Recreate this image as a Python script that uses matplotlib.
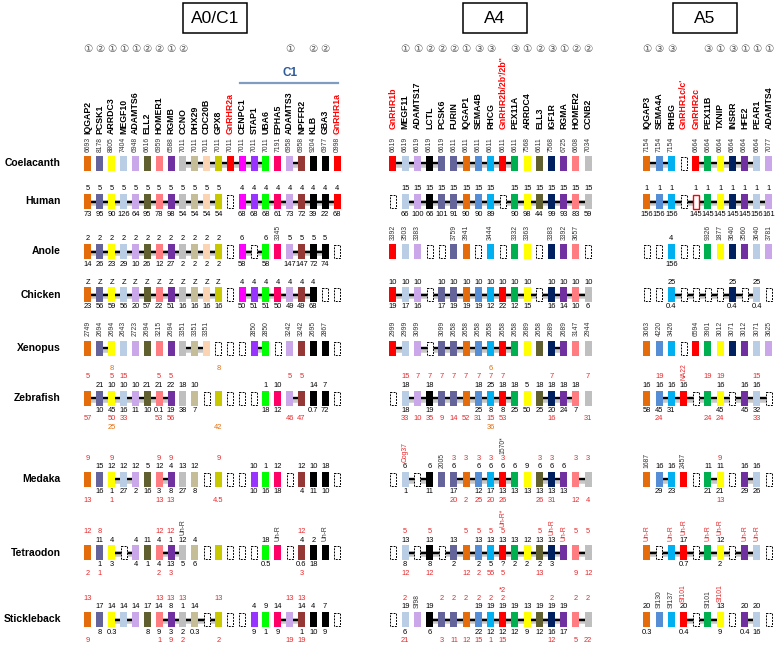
import matplotlib.pyplot as plt
from matplotlib.patches import Rectangle

plt.rcParams['font.family'] = ['Liberation Sans', 'DejaVu Sans']

SPECIES = ['Coelacanth', 'Human', 'Anole', 'Chicken', 'Xenopus',
           'Zebrafish', 'Medaka', 'Tetraodon', 'Stickleback']

# colours of the gene families
ORG = '#E46C0A'; SLT = '#64649A'; YEL = '#FFFF00'; LBL = '#B9CDE5'
LAV = '#C9A7E8'; OLV = '#5F5F30'; SAL = '#FF7C80'; PUR = '#7030A0'
GRY = '#BFBFBF'; TAN = '#C4BD97'; PCH = '#FBD4B4'; GPX = '#C8C800'
RED = '#FF0000'; MAG = '#FF00FF'; VIO = '#9933FF'; LIM = '#00FF00'
PNK = '#FF0066'; BRN = '#953735'; BLK = '#000000'; STL = '#558ED5'
SKY = '#00B0F0'; GRN = '#00B050'; NAV = '#002060'

# ---------------- A0/C1 ----------------
A0_GENES = ['IQGAP2', 'PCSK1', 'ARRDC3', 'MEGF10', 'ADAMTS6', 'ELL2', 'HOMER1',
            'RGMB', 'CCNO', 'DHX29', 'CDC20B', 'GPX8', 'GnRHR2a', 'CENPC1',
            'STAP1', 'UBA6', 'EPHA5', 'ADAMTS3', 'NPFFR2', 'KLB', 'GBA3', 'GnRHR1a']
A0_COLORS = [ORG, SLT, YEL, LBL, LAV, OLV, SAL, PUR, GRY, TAN, PCH, GPX, RED,
             MAG, VIO, LIM, PNK, LAV, BRN, BLK, BLK, RED]
A0_CIRCLED = '1 2 1 1 1 2 2 1 2 . . . . . . . . 1 . 2 2 .'
A0_BOXES = ['xxxxxxxxxxxxxxxxxxxxxx', 'xxxxxxxxxxxxdxxxxxxxxx', 'xxxxxxxxxxxxdxdxxxxxxd',
            'xxxxxxxxxxxxdxxxxxxxdd', 'xxxxxxxxxxxdddxxdxxxxd', 'xxxxxxxxxxdxdddxxxxxxd',
            'xxxxxxxxxxdxddxxxdxxxd', 'xxxdxxxxxxdxdddxxdxxxd', 'xxxxxxxxxxdxddxxxxxxxd']
A0_LINKS = [[(8, 15), (17, 18)], [(0, 11), (13, 21)], [(0, 11), (13, 15), (17, 20)],
            [(0, 11), (13, 19)], [(1, 2), (8, 10), (14, 15)], [(0, 7), (17, 18)],
            [(2, 4), (6, 7)], [(2, 4), (6, 8)], [(2, 4), (6, 11), (16, 18)]]
A0_ROT = ['6693 8178 8805 7404 6948 6616 6959 6588 7011 7011 7011 7011 7011 7011 7011 7011 7191 6958 6958 9204 6977 0998',
          '',
          '. . . . . . . . . . . . . . . . 3345 . . . . .',
          '',
          '2749 2694 2694 2643 2723 2694 3215 2694 3351 3351 3351 . . . 2850 2850 . 3242 3242 2695 2867 .',
          '', '',
          '. . . . . . . . Un-R . . . . . . . Un-R . . . Un-R .',
          '']
A0_TOP = ['',
          '5 5 5 5 5 5 5 5 5 5 5 5 . 4 4 4 4 4 4 4 4 4',
          '2 2 2 2 2 2 2 2 2 2 2 2 . 6 . 6 . 5 5 5 5 .',
          'Z Z Z Z Z Z Z Z Z Z Z Z . 4 4 4 4 4 4 4 . .',
          '',
          '. 21 10 10 10 21 21 22 18 10 . . . . . 1 10 . . 14 7 .',
          '. 15 12 12 12 5 12 4 13 12 . . . . 10 1 12 . 12 10 18 .',
          '. 11 4 . 4 11 4 1 12 4 . . . . . 18 . . 4 2 . .',
          '. 17 14 14 14 17 14 8 1 14 . . . . 4 9 14 . 14 4 7 .']
A0_TOP2 = ['', '', '', '', '',
           '5 . 5 15 . . 5 5 . . . . . . . . . 5 5 . . .',
           '9 . 9 . . . 9 9 . . . 9 . . . . . . . . . .',
           '12 8 . . . . 12 12 . . . . . . . . . . 12 . . .',
           '13 . . . . . 13 13 13 . . 13 . . . . . 13 13 . . .']
A0_TOP3 = ['', '', '', '', '',
           '. . 8 . . . . . . . . 8 . . . . . . . . . .',
           '', '', '']
A0_BOT = ['',
          '73 95 90 126 64 95 78 98 54 54 54 54 . 68 68 68 61 73 72 39 22 68',
          '14 26 23 29 10 26 12 27 2 2 2 2 . 58 . 58 . 147 147 72 74 .',
          '23 56 59 56 20 57 22 51 16 16 16 16 . 50 51 51 50 49 49 68 . .',
          '',
          '. 10 45 16 11 10 0.1 19 38 7 . . . . . 18 12 . . 0.7 72 .',
          '. 16 1 27 2 16 3 8 27 8 . . . . 10 16 18 . 4 11 10 .',
          '. 1 3 . 4 1 4 13 5 6 . . . . . 0.5 . . 0.6 18 . .',
          '. 8 0.3 . . 8 9 3 2 0.3 . . . . 9 1 9 . 1 10 9 .']
A0_BOT2 = ['', '', '', '', '',
           '57 . 50 33 . . 53 56 . . . . . . . . . 46 47 . . .',
           '13 . 1 . . . 13 13 . . . 4.5 . . . . . . . . . .',
           '2 1 . . . . 2 3 . . . . . . . . . . 3 . . .',
           '9 . . . . . 1 9 2 . . 2 . . . . . 19 19 . . .']
A0_BOT3 = ['', '', '', '', '',
           '. . 25 . . . . . . . . 42 . . . . . . . . . .',
           '', '', '']

# ---------------- A4 ----------------
A4_GENES = ['GnRHR1b', 'MEGF11', 'ADAMTS17', 'LCTL', 'PCSK6', 'FURIN', 'IQGAP1',
            'SEMA4B', 'RHCG', "GnRHR2b/2b'/2b''", 'PEX11A', 'ARRDC4', 'ELL3',
            'IGF1R', 'RGMA', 'HOMER2', 'CCNB2']
A4_COLORS = [RED, LBL, LAV, BLK, SLT, SLT, ORG, STL, SKY, RED, GRN, YEL, OLV,
             NAV, PUR, SAL, GRY]
A4_CIRCLED = '. 1 1 2 2 2 1 3 3 . 3 1 2 3 1 2 2'
A4_BOXES = ['xxxxxxxxxxxxxxxxx', 'dxxxxxxxxdxxxxxxx', 'xxxddxxdxdxxdxxxd',
            'xxxdxxxxxxxxdxxxx', 'xxxdxxxxxxxxxxxxx', 'dxxxxxxxxxxxxxxxx',
            'dxdxxxxxxxxxxxxxx', 'dxdxdxxxxxxxxxxxx', 'dxxxxxxxxxxxxxxxx']
A4_LINKS = [[(0, 4), (5, 10)], [(1, 16)], [], [(0, 16)], [(0, 1), (2, 10), (13, 14)],
            [(1, 10), (12, 15)], [(1, 3), (5, 10), (12, 14), (15, 16)],
            [(1, 14), (15, 16)], [(3, 14), (15, 16)]]
A4_ROT = ['6619 6619 6619 6619 6619 6611 6611 6611 6611 6611 6611 7568 6611 7568 6725 6608 7034',
          '',
          '3392 3503 3383 . . 3759 3941 . 3444 . 3332 3363 . 3383 3392 3657 .',
          '',
          '2999 2999 3099 . 3099 2658 2658 2658 2658 2658 2658 2689 2658 2689 2689 3147 2944',
          '',
          '. r:Cog37 . . 2005 . . . . 1570* . . . . . . .',
          '. . . . . . . . . r:Un-R* . . . r:Un-R r:Un-R . .',
          '. . Sf98 . . . . . . . . . . . . . .']
A4_TOP = ['',
          '. 15 15 15 15 15 15 15 15 . 15 15 15 15 15 15 15',
          '',
          '10 10 10 . 10 10 10 10 10 10 10 10 . 10 10 10 10',
          '',
          '. 18 . 18 . . . 18 25 18 18 5 18 18 18 18 .',
          '. 6 . 6 . 6 . 6 6 6 6 9 6 6 6 . .',
          '. 13 . 13 . 13 . 13 13 13 13 12 13 13 . . .',
          '. 19 . 19 . . . 19 19 19 19 13 19 19 19 . .']
A4_TOP2 = ['', '', '', '', '',
           '. 15 7 7 7 7 7 7 7 7 . . . 7 . . 7',
           '. . . . . 3 3 3 3 3 . . 3 3 . 3 3',
           '. 5 . 5 . . 5 5 5 5 . . 5 . . 5 5',
           '. 2 . . 2 2 2 2 2 2 . . . 2 . 2 2']
A4_TOP3 = ['', '', '', '', '',
           '. . . . . . . . 6 . . . . . . . .',
           '', '',
           '. . . . . . . . . r:*2 . . . . . . .']
A4_BOT = ['',
          '. 66 100 66 101 91 90 90 89 . 90 98 44 99 93 83 59',
          '',
          '19 17 16 . 17 19 19 19 12 22 12 15 . 16 14 10 6',
          '',
          '. 18 . 19 . . . 25 8 8 25 50 25 20 24 7 .',
          '. 1 . 11 . 17 . 12 17 13 13 13 13 13 13 . .',
          '. 8 . 8 . 2 . 2 5 ? 2 2 2 3 . . .',
          '. 6 . 6 . . . 22 12 12 12 9 12 16 17 . .']
A4_BOT2 = ['', '', '', '', '',
           '. 33 10 35 9 14 52 31 15 53 . . . 16 . . 31',
           '. . . . . 20 2 25 20 26 . . 26 31 . 12 4',
           '. 12 . 12 . . 12 2 55 5 . . 13 . . 9 12',
           '. 21 . . 3 11 12 15 1 15 . . . 12 . 5 22']
A4_BOT3 = ['', '', '', '', '',
           '. . . . . . . . 36 . . . . . . . .',
           '', '', '']

# ---------------- A5 ----------------
A5_GENES = ['IQGAP3', 'SEMA4A', 'RHBG', "GnRHR1c/c'", 'GnRHR2c', 'PEX11B', 'TXNIP',
            'INSRR', 'HFE2', 'PEAR1', 'ADAMTS4']
A5_COLORS = [ORG, STL, SKY, RED, RED, GRN, YEL, NAV, PUR, LBL, LAV]
A5_CIRCLED = '1 3 3 . . 3 1 3 1 1 1'
A5_BOXES = ['xxxdxxxxxxx', 'xxxdoxxxxxx', 'ddxddxxxxxx', 'ddxddddxdxd', 'xxxdxxxxxxx',
            'xxxxdxxdxxd', 'xxxxdxxdxxd', 'xdxxdxxdxxd', 'xxxxdxxdxxd']
A5_LINKS = [[(0, 2), (4, 9)], [(0, 10)], [], [(2, 9)], [], [(1, 10)],
            [(1, 2), (5, 6), (8, 9)], [(0, 9)], [(3, 6), (8, 9)]]
A5_ROT = ['7154 7154 7154 . 6664 6664 6664 6664 6664 6664 7077',
          '',
          '. . . . . 9326 1877 3640 3560 3640 3781',
          '',
          '3063 4220 3426 . 6594 3901 3012 3071 3012 3071 3625',
          '. . . r:NA22 . . . . . . .',
          '1687 . . 2457 . . . . . . .',
          'r:Un-R . r:Un-R r:Un-R . r:Un-R r:Un-R . r:Un-R r:Un-R .',
          '. Sf130 Sf137 r:Sf101 . Sf101 r:Sf101 . . . .']
A5_TOP = ['',
          '1 1 1 . 1 1 1 1 1 1 1',
          '. . 4 . . . . . . . .',
          '. . 25 . . . . 25 . 25 .',
          '',
          '16 16 16 16 . . 16 . 16 16 .',
          '. 16 16 . . 11 11 . 16 16 .',
          '. . . 17 . . 12 . . . .',
          '20 . . 20 . . 13 . 20 20 .']
A5_TOP2 = ['', '', '', '', '',
           '. 19 . . . 19 19 . . 15 .',
           '. . . . . . 9 . . . .',
           '', '']
A5_TOP3 = [''] * 9
A5_BOT = ['',
          '156 156 156 . 145 145 145 145 145 156 161',
          '. . 156 . . . . . . . .',
          '. . 0.4 . . . . 0.4 . 0.4 .',
          '',
          '58 45 31 . . . 45 . 45 32 .',
          '. 29 23 . . 21 21 . 29 26 .',
          '. . . 0.7 . . 2 . . . .',
          '0.3 . . 0.4 . . 9 . 0.4 16 .']
A5_BOT2 = ['', '', '', '', '',
           '. 24 . . . 24 24 . . 33 .',
           '. . . . . . 13 . . . .',
           '', '']
A5_BOT3 = [''] * 9

RED_TXT = '#E8282B'
ORANGE_TXT = '#E46C0A'
ROW_Y = [163, 201.5, 251.5, 294.5, 348, 398, 479, 552.5, 619.5]
BOX_W, BOX_H = 7, 15
FS = 5.4
FS_ROT = 4.9

panels = [
    dict(title='A0/C1', tx=215, x0=88, dx=11.86, lab_y=134, genes=A0_GENES, colors=A0_COLORS,
         circ=A0_CIRCLED, boxes=A0_BOXES, links=A0_LINKS, rot=A0_ROT, top=A0_TOP, top2=A0_TOP2,
         top3=A0_TOP3, bot=A0_BOT, bot2=A0_BOT2, bot3=A0_BOT3),
    dict(title='A4', tx=495, x0=393, dx=12.2, lab_y=129, genes=A4_GENES, colors=A4_COLORS,
         circ=A4_CIRCLED, boxes=A4_BOXES, links=A4_LINKS, rot=A4_ROT, top=A4_TOP, top2=A4_TOP2,
         top3=A4_TOP3, bot=A4_BOT, bot2=A4_BOT2, bot3=A4_BOT3),
    dict(title='A5', tx=705, x0=647, dx=12.2, lab_y=129, genes=A5_GENES, colors=A5_COLORS,
         circ=A5_CIRCLED, boxes=A5_BOXES, links=A5_LINKS, rot=A5_ROT, top=A5_TOP, top2=A5_TOP2,
         top3=A5_TOP3, bot=A5_BOT, bot2=A5_BOT2, bot3=A5_BOT3),
]


def tokens(s, n):
    t = s.split() if s else []
    t = t + ['.'] * (n - len(t))
    return t[:n]


def styled(tok, default):
    if tok.startswith('r:'):
        return tok[2:], RED_TXT
    if tok.startswith('o:'):
        return tok[2:], ORANGE_TXT
    return tok, default


fig = plt.figure(figsize=(7.79, 6.45), dpi=100, facecolor='white')
ax = fig.add_axes([0, 0, 1, 1])
ax.set_xlim(0, 779)
ax.set_ylim(645, 0)
ax.axis('off')

for name, y in zip(SPECIES, ROW_Y):
    ax.text(61, y, name, ha='right', va='center', fontsize=7.5, fontweight='bold')

circled = {'1': '\u2460', '2': '\u2461', '3': '\u2462'}

for p in panels:
    n = len(p['genes'])
    xs = [p['x0'] + i * p['dx'] for i in range(n)]

    # title box
    ax.add_patch(Rectangle((p['tx'] - 32, 3), 64, 30, fill=False, ec='black', lw=1.1))
    ax.text(p['tx'], 18.5, p['title'], ha='center', va='center', fontsize=12.5)

    for x, c in zip(xs, tokens(p['circ'], n)):
        if c != '.':
            ax.text(x, 49, circled[c], ha='center', va='center', fontsize=7.5,
                    color='#555555', family=['DejaVu Sans', 'Noto Sans CJK JP'])

    for x, g in zip(xs, p['genes']):
        col = RED if g.startswith('GnRHR') else 'black'
        ax.text(x, p['lab_y'], g, rotation=90, ha='center', va='bottom',
                fontsize=6.3, fontweight='bold', color=col)

    for r, y in enumerate(ROW_Y):
        top_y = y - BOX_H / 2
        bot_y = y + BOX_H / 2
        # links
        for i, j in p['links'][r]:
            ax.plot([xs[i], xs[j]], [y + 1.5, y + 1.5], color='#C8C8C8', lw=4,
                    solid_capstyle='butt', zorder=1)
            ax.plot([xs[i], xs[j]], [y, y], color='black', lw=1.7, zorder=2)
        # boxes
        for i, b in enumerate(p['boxes'][r][:n]):
            if b == 'x':
                ax.add_patch(Rectangle((xs[i] - BOX_W / 2, top_y), BOX_W, BOX_H,
                                       fc=p['colors'][i], ec='none', zorder=3))
            elif b == 'd':
                ax.add_patch(Rectangle((xs[i] - 3, top_y + 1), 6, BOX_H - 2, fc='white',
                                       ec='black', lw=0.7, ls=(0, (2, 1.2)), zorder=3))
            elif b == 'o':
                ax.add_patch(Rectangle((xs[i] - 3, top_y + 0.5), 6, BOX_H - 1, fc='white',
                                       ec=RED, lw=1.0, zorder=3))
        # numbers above / below
        top = tokens(p['top'][r], n)
        top2 = tokens(p['top2'][r], n)
        tiers = [(p['top'][r], top_y - 5, 'black'), (p['top2'][r], top_y - 13.5, RED_TXT),
                 (p['top3'][r], top_y - 22, ORANGE_TXT), (p['bot'][r], bot_y + 5, 'black'),
                 (p['bot2'][r], bot_y + 13.5, RED_TXT), (p['bot3'][r], bot_y + 22, ORANGE_TXT)]
        for s, ty, col in tiers:
            for x, t in zip(xs, tokens(s, n)):
                if t == '.':
                    continue
                txt, c = styled(t, col)
                ax.text(x, ty, txt, ha='center', va='center', fontsize=FS, color=c)
        # vertical labels
        for i, t in enumerate(tokens(p['rot'][r], n)):
            if t == '.':
                continue
            txt, c = styled(t, '#333333')
            if top2[i] != '.':
                ay = top_y - 18
            elif top[i] != '.':
                ay = top_y - 10
            else:
                ay = top_y - 4
            ax.text(xs[i], ay, txt, rotation=90, ha='center', va='bottom', fontsize=FS_ROT, color=c)

# C1 bracket
ax.plot([240, 338], [83, 83], color='#7F9DC0', lw=1.6)
ax.text(290, 73, 'C1', ha='center', va='center', fontsize=8.5, fontweight='bold', color='#2E5C9A')

fig.savefig('out.png', dpi=100, facecolor='white')
